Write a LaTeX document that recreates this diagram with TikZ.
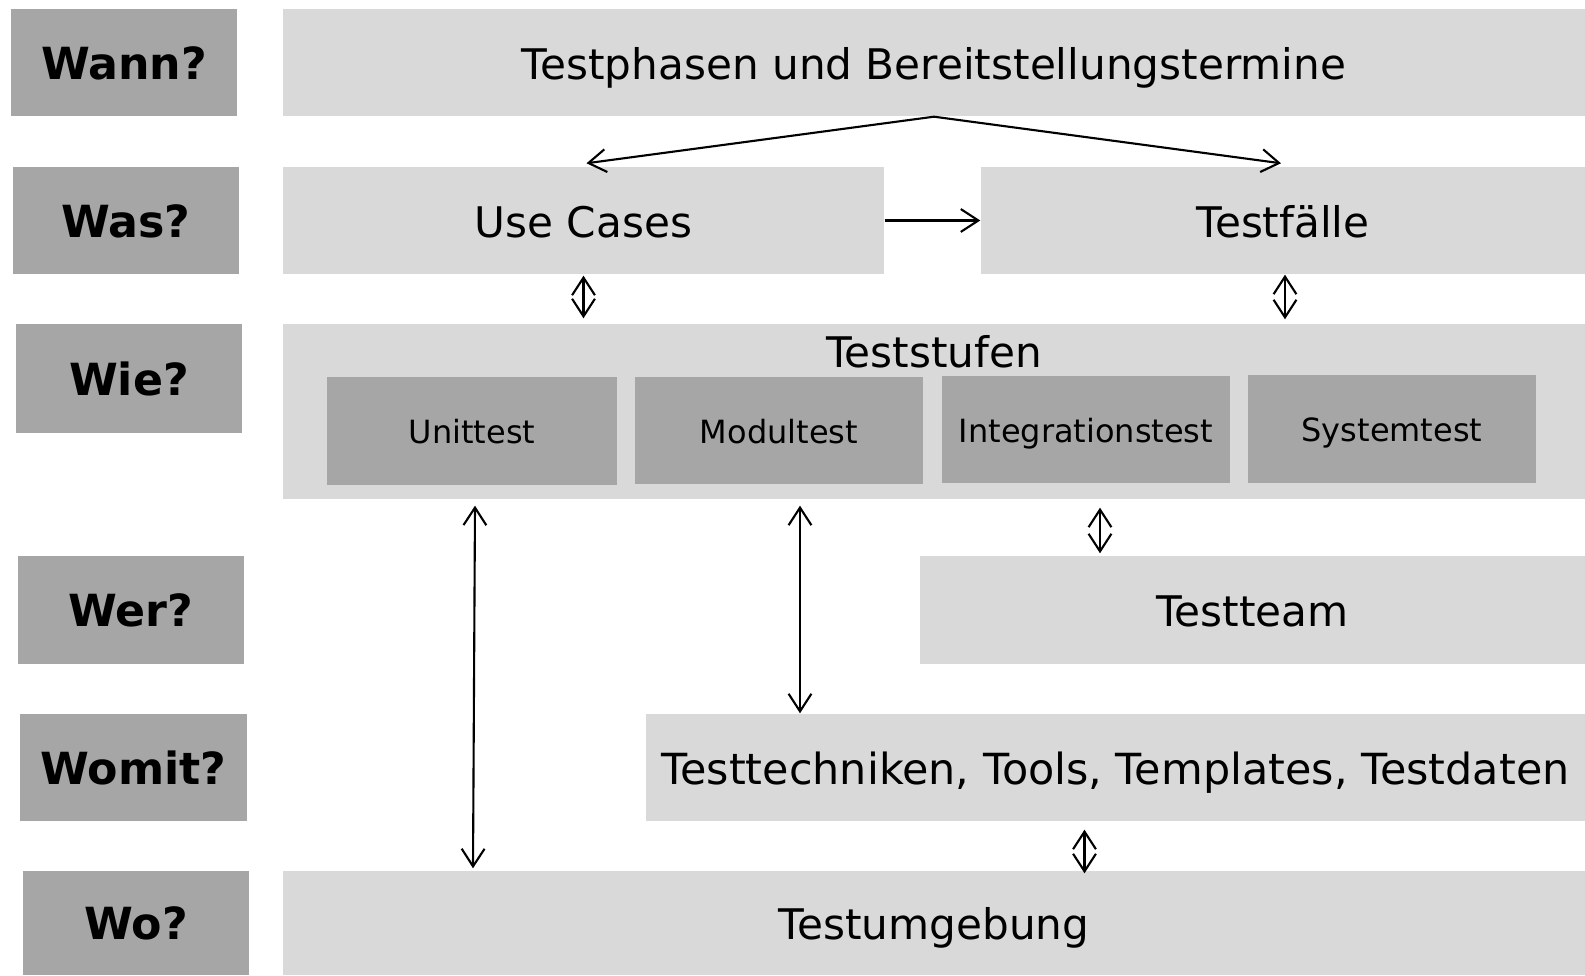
\documentclass[tikz,border=0pt]{standalone}
\usepackage{fontspec}
\setmainfont{DejaVu Sans}
\usepackage{tikz}
\usetikzlibrary{arrows.meta,calc,positioning,fit}
\definecolor{hellgrau}{HTML}{D9D9D9}
\definecolor{dunkelgrau}{HTML}{A6A6A6}
\tikzset{
    schrift/.style={text height=0.73em,text depth=0pt},
    frage/.style={fill=dunkelgrau,inner sep=0pt,
      label={[schrift,font=\fontsize{12.6}{15}\selectfont\bfseries,yshift=-1.1pt]center:#1}},
    feld/.style={fill=hellgrau,inner sep=0pt,
      label={[schrift,font=\fontsize{12}{14}\selectfont,yshift=-1.1pt]center:#1}},
    stufe/.style={fill=dunkelgrau,inner sep=0pt,
      label={[schrift,font=\fontsize{9.1}{11}\selectfont]center:#1}},
    pfeil/.style={line width=0.6pt,-{Straight Barb[length=5pt,width=6.5pt]}},
    dpfeil/.style={line width=0.6pt,{Straight Barb[length=5pt,width=6.5pt]}-{Straight Barb[length=5pt,width=6.5pt]}}
}

\begin{document}
\begin{tikzpicture}[x=0.1mm,y=-0.1mm]
  \useasboundingbox (0,0) rectangle (1585,976);

  \node[frage=Wann?,fit={(11,9) (237,116)}] (wann) {};
  \node[frage=Was?,fit={(13,167) (239,274)}] (was) {};
  \node[frage=Wie?,fit={(16,324) (242,433)}] (wie) {};
  \node[frage=Wer?,fit={(18,556) (244,664)}] (wer) {};
  \node[frage=Womit?,fit={(20,714) (247,821)}] (womit) {};
  \node[frage=Wo?,fit={(23,871) (249,975)}] (wo) {};

  \node[feld=Testphasen und Bereitstellungstermine,fit={(283,9) (1585,116)}] (plan) {};
  \node[feld=Use Cases,fit={(283,167) (884,274)}] (uc) {};
  \node[feld=Testfälle,fit={(981,167) (1585,274)}] (tf) {};
  \node[fill=hellgrau,inner sep=0pt,fit={(283,324) (1585,499)}] (stufen) {};
  \node[font=\fontsize{12}{14}\selectfont,inner sep=0pt] (stufentext) at (934,352) {Teststufen};
  \node[stufe=Unittest,fit={(327,377) (617,485)}] (unit) {};
  \node[stufe=Modultest,fit={(635,377) (923,484)}] (mod) {};
  \node[stufe=Integrationstest,fit={(942,376) (1230,483)}] (integ) {};
  \node[stufe=Systemtest,fit={(1248,375) (1536,483)}] (sys) {};
  \node[feld=Testteam,fit={(920,556) (1585,664)}] (team) {};
  \node[fill=hellgrau,inner sep=0pt,fit={(646,714) (1585,821)},
    label={[schrift,font=\fontsize{12.2}{14}\selectfont,yshift=-1.1pt]center:{Testtechniken, Tools, Templates, Testdaten}}] (tt) {};
  \node[feld=Testumgebung,fit={(283,871) (1585,975)}] (umg) {};

  \draw[pfeil] (plan.south) -- ($(uc.north)+(3,-3)$);
  \draw[pfeil] (plan.south) -- ($(tf.north)+(-2,-3)$);
  \draw[pfeil] (uc.east) -- (tf.west);

  \draw[dpfeil] ($(uc.south)+(0,1)$) -- ($(uc.south |- stufen.north)+(0,-5)$);
  \draw[dpfeil] ($(tf.south)+(2,0)$) -- ($(tf.south |- stufen.north)+(2,-4)$);

  \draw[dpfeil] ($(unit.south |- stufen.south)+(3,6)$) -- ($(unit.south |- umg.north)+(1,-2)$);
  \draw[dpfeil] ($(mod.south |- stufen.south)+(21,6)$) -- ($(mod.south |- tt.north)+(21,0)$);
  \draw[dpfeil] ($(integ.south |- stufen.south)+(14,8)$) -- ($(integ.south |- team.north)+(14,-2)$);
  \draw[dpfeil] ($(tt.south)+(-31,8)$) -- ($(tt.south |- umg.north)+(-31,3)$);
\end{tikzpicture}
\end{document}
